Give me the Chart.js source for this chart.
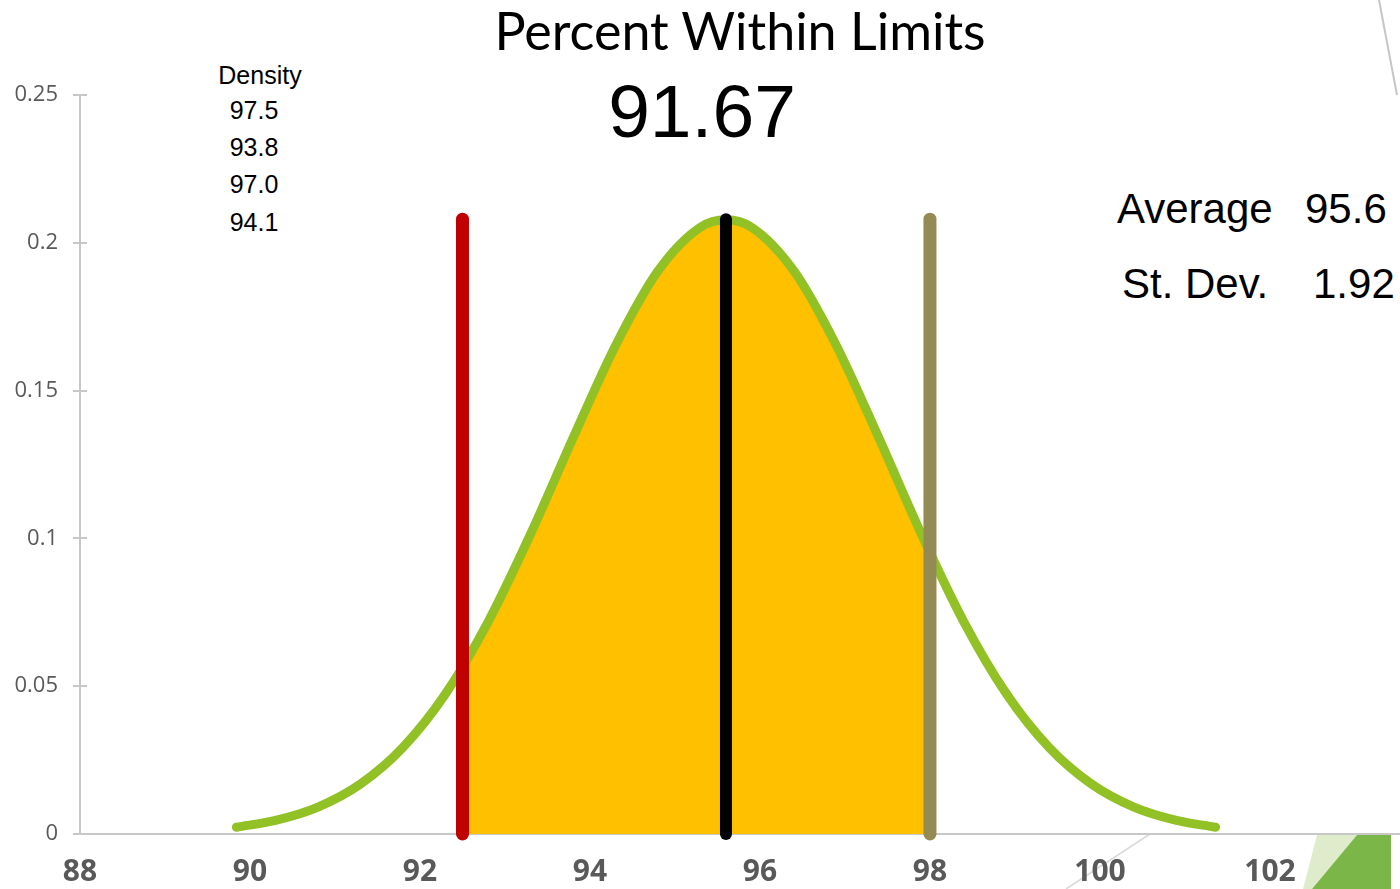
<!DOCTYPE html>
<html>
<head>
<meta charset="utf-8">
<title>Percent Within Limits</title>
<script src="https://cdn.jsdelivr.net/npm/chart.js@4/dist/chart.umd.min.js"></script>
<style>
  html, body { margin: 0; padding: 0; background: #ffffff; }
  #wrap { position: relative; width: 1400px; height: 889px; overflow: hidden; }
  #deco { position: absolute; left: 0; top: 0; }
  #chart { position: absolute; left: 0; top: 0; }
</style>
</head>
<body>
<div id="wrap">
  <svg id="deco" width="1400" height="889" xmlns="http://www.w3.org/2000/svg">
    <!-- slide ornaments -->
    <line x1="1379" y1="0" x2="1397" y2="95" stroke="#c6c6c6" stroke-width="2"/>
    <line x1="1150" y1="834" x2="1066" y2="889" stroke="#d9d9d9" stroke-width="1.5"/>
    <polygon points="1317,835 1357,835 1312,889 1303,889" fill="#dfeccb"/>
    <polygon points="1357,835 1391,835 1391,889 1312,889" fill="#7ab648"/>
    <!-- headings and summary -->
    <g id="texts" fill="#000000"></g>
  </svg>
  <canvas id="chart" width="1400" height="889"></canvas>
</div>
<script>
// Normal curve of the measurements (x = value, y = density)
const curveX = [89.84, 90.3, 90.8, 91.3, 91.8, 92.3, 92.8, 93.3, 93.8, 94.3, 94.8, 95.3, 95.6,
                95.9, 96.4, 96.9, 97.4, 97.9, 98.4, 98.9, 99.4, 99.9, 100.4, 100.9, 101.36];
const curveY = [0.0023, 0.0046, 0.0091, 0.0169, 0.0293, 0.0474, 0.0717, 0.1014, 0.1339, 0.1652, 0.1905, 0.2053, 0.2078,
                0.2053, 0.1905, 0.1652, 0.1339, 0.1014, 0.0717, 0.0474, 0.0293, 0.0169, 0.0091, 0.0046, 0.0023];

// Part of the curve between the lower and upper limit (shaded)
const bandX = [92.5, 92.8, 93.3, 93.8, 94.3, 94.8, 95.3, 95.6, 95.9, 96.4, 96.9, 97.4, 97.9, 98.0];
const bandY = [0.0564, 0.0717, 0.1014, 0.1339, 0.1652, 0.1905, 0.2053, 0.2078, 0.2053, 0.1905, 0.1652, 0.1339, 0.1014, 0.0951];

// Limits and summary statistics
const lowerLimit = 92.5;
const upperLimit = 98.0;
const average = 95.6;
const stDev = 1.92;
const markerTop = 0.208;
const percentWithin = '91.67';
const densityValues = ['97.5', '93.8', '97.0', '94.1'];

// Axis ticks
const xTicks = [88, 90, 92, 94, 96, 98, 100, 102];
const yTicks = [0, 0.05, 0.1, 0.15, 0.2, 0.25];

const toPoints = (xs, ys) => xs.map((x, i) => ({ x: x, y: ys[i] }));
const vertical = (x) => [{ x: x, y: 0 }, { x: x, y: markerTop }];

// Text labels
const SVGNS = 'http://www.w3.org/2000/svg';
const textGroup = document.getElementById('texts');
function addText(str, x, y, size, family, anchor, weight) {
  const t = document.createElementNS(SVGNS, 'text');
  t.setAttribute('x', x);
  t.setAttribute('y', y);
  t.setAttribute('font-size', size);
  t.setAttribute('font-family', family);
  t.setAttribute('text-anchor', anchor || 'start');
  if (weight) t.setAttribute('font-weight', weight);
  t.textContent = str;
  textGroup.appendChild(t);
}
const sans = '"Liberation Sans", Arial, sans-serif';
addText('Percent Within Limits', 740, 50, 52, 'Lato, sans-serif', 'middle');
addText(percentWithin, 702, 137, 75, sans, 'middle');
addText('Density', 260, 84, 25, sans, 'middle');
densityValues.forEach((v, i) => {
  addText(v, 254, [119, 156, 193, 231][i], 25, sans, 'middle');
});
addText('Average', 1117, 223, 42, sans, 'start');
addText(average.toFixed(1), 1305, 223, 42, sans, 'start');
addText('St. Dev.', 1122, 298, 42, sans, 'start');
addText(stDev.toFixed(2), 1313, 298, 42, sans, 'start');

// Short tick stubs on the inner side of the value axis
const innerTicks = {
  id: 'innerTicks',
  afterDraw(chart) {
    const ctx = chart.ctx;
    const ys = chart.scales.y;
    ctx.save();
    ctx.strokeStyle = '#c8c8c8';
    ctx.lineWidth = 2;
    yTicks.forEach(v => {
      const py = Math.round(ys.getPixelForValue(v));
      ctx.beginPath();
      ctx.moveTo(ys.right, py);
      ctx.lineTo(ys.right + 7, py);
      ctx.stroke();
    });
    ctx.restore();
  }
};

const lineDefaults = { showLine: true, pointRadius: 0, pointHoverRadius: 0, clip: false, fill: false };

new Chart(document.getElementById('chart'), {
  type: 'scatter',
  data: {
    datasets: [
      Object.assign({}, lineDefaults, {
        label: 'Lower limit', data: vertical(lowerLimit),
        borderColor: '#c00000', borderWidth: 13, borderCapStyle: 'round', order: 0
      }),
      Object.assign({}, lineDefaults, {
        label: 'Average', data: vertical(average),
        borderColor: '#000000', borderWidth: 12, borderCapStyle: 'round', order: 0
      }),
      Object.assign({}, lineDefaults, {
        label: 'Upper limit', data: vertical(upperLimit),
        borderColor: '#948a54', borderWidth: 13, borderCapStyle: 'round', order: 0
      }),
      Object.assign({}, lineDefaults, {
        label: 'Density', data: toPoints(curveX, curveY),
        borderColor: '#92c125', borderWidth: 9, borderCapStyle: 'round', borderJoinStyle: 'round',
        cubicInterpolationMode: 'monotone', order: 1
      }),
      Object.assign({}, lineDefaults, {
        label: 'Within limits', data: toPoints(bandX, bandY),
        borderWidth: 0, borderColor: 'rgba(0,0,0,0)', backgroundColor: '#ffc000',
        fill: 'origin', cubicInterpolationMode: 'monotone', order: 2
      })
    ]
  },
  options: {
    responsive: false,
    animation: false,
    events: [],
    layout: { padding: { top: 95, left: 0, right: 0, bottom: 0 } },
    plugins: { legend: { display: false }, tooltip: { enabled: false }, title: { display: false } },
    scales: {
      x: {
        type: 'linear',
        min: 88,
        max: 103.53,
        afterBuildTicks: s => { s.ticks = xTicks.map(v => ({ value: v })); },
        afterFit: s => { s.height = 55; },
        grid: { display: false, drawTicks: false },
        border: { display: true, color: '#c8c8c8', width: 2 },
        ticks: {
          padding: 20,
          color: '#595959',
          font: { family: '"Open Sans", sans-serif', size: 30, weight: 'bold' },
          maxRotation: 0,
          autoSkip: false,
          callback: v => String(v)
        }
      },
      y: {
        type: 'linear',
        min: 0,
        max: 0.25,
        afterBuildTicks: s => { s.ticks = yTicks.map(v => ({ value: v })); },
        afterFit: s => { s.width = 80; },
        grid: { drawOnChartArea: false, drawTicks: true, tickLength: 7, color: '#c8c8c8', lineWidth: 2 },
        border: { display: true, color: '#c8c8c8', width: 2 },
        ticks: {
          padding: 15,
          color: '#595959',
          font: { family: '"Open Sans", sans-serif', size: 22 },
          autoSkip: false,
          callback: v => String(v)
        }
      }
    }
  },
  plugins: [innerTicks]
});
</script>
</body>
</html>
